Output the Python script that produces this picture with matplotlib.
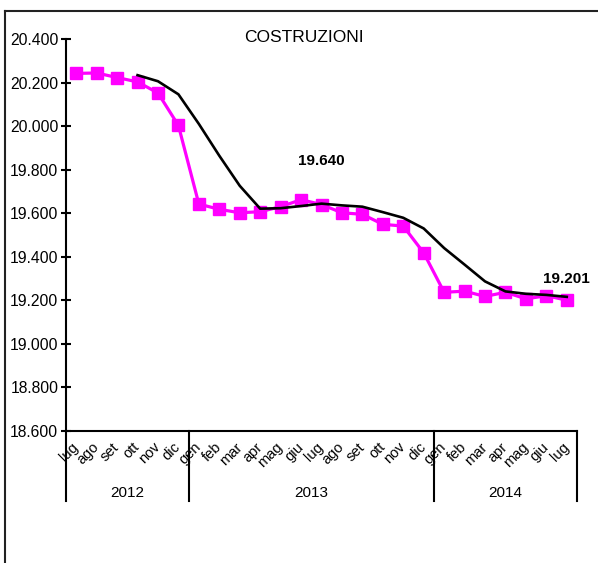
import numpy as np
import matplotlib.pyplot as plt
from matplotlib.lines import Line2D
from matplotlib.transforms import blended_transform_factory

plt.rcParams['font.family'] = ['Liberation Sans', 'DejaVu Sans']

# months from lug 2012 to lug 2014
months = ['lug', 'ago', 'set', 'ott', 'nov', 'dic',
          'gen', 'feb', 'mar', 'apr', 'mag', 'giu', 'lug', 'ago', 'set', 'ott', 'nov', 'dic',
          'gen', 'feb', 'mar', 'apr', 'mag', 'giu', 'lug']
years = ['2012', '2013', '2014']
year_len = [6, 12, 7]

# monthly values (pink) and trend (black)
values = [20242, 20244, 20223, 20203, 20152, 20003,
          19642, 19618, 19602, 19607, 19630, 19662, 19640, 19602, 19595, 19549, 19541, 19418,
          19237, 19242, 19218, 19237, 19207, 19221, 19201]
trend = [np.nan, np.nan, np.nan, 20234, 20206, 20146,
         20010, 19864, 19726, 19621, 19623, 19633, 19644, 19636, 19630, 19605, 19579, 19530,
         19440, 19364, 19287, 19241, 19230, 19225, 19216]

fig = plt.figure(figsize=(5.98, 5.63), dpi=100)
ax = fig.add_axes([66 / 598, 1 - 431 / 563, 511 / 598, 392 / 563])

x = np.arange(len(months))
ax.plot(x, values, color='#FF00FF', lw=2.3, marker='s', markersize=8.8, zorder=2)
ax.plot(x, trend, color='black', lw=1.9, zorder=3)

ax.set_xlim(-0.5, len(months) - 0.5)
ax.set_ylim(18600, 20400)
yt = np.arange(18600, 20401, 200)
ax.set_yticks(yt)
ax.set_yticklabels([f"{v:,.0f}".replace(',', '.') for v in yt], fontsize=11.3)
ax.tick_params(axis='y', direction='inout', length=7, width=1.5, pad=2)

ax.set_xticks(x)
ax.set_xticklabels(months, fontsize=10.5, rotation=45, ha='right', va='center',
                   rotation_mode='anchor')
ax.tick_params(axis='x', length=0, pad=10)

for s in ['top', 'right']:
    ax.spines[s].set_visible(False)
for s in ['left', 'bottom']:
    ax.spines[s].set_linewidth(1.5)

ax.text(0.465, 1.005, 'COSTRUZIONI', transform=ax.transAxes, ha='center', va='center',
        fontsize=12.5)

# data labels
for i in [12, 24]:
    off = 31 if i == 12 else 15
    ax.annotate(f"{values[i]:,.0f}".replace(',', '.'), (x[i], values[i]),
                xytext=(0, off), textcoords='offset points', ha='center', va='center',
                fontsize=11, fontweight='bold')

# year groups under the axis
tr = blended_transform_factory(ax.transData, ax.transAxes)
edges = np.concatenate([[0], np.cumsum(year_len)]) - 0.5
for e in edges:
    ax.add_line(Line2D([e, e], [0, -70 / 392], transform=tr, color='black', lw=1.5,
                       clip_on=False))
for i, yr in enumerate(years):
    ax.text((edges[i] + edges[i + 1]) / 2, -62 / 392, yr, transform=tr, ha='center',
            va='center', fontsize=11)

# outer frame
fig.add_artist(Line2D([5 / 598, 1], [1 - 11 / 563, 1 - 11 / 563], color='#222222', lw=1.5))
fig.add_artist(Line2D([5 / 598, 5 / 598], [0, 1 - 11 / 563], color='#222222', lw=1.5))

fig.savefig('out.png', dpi=100)
